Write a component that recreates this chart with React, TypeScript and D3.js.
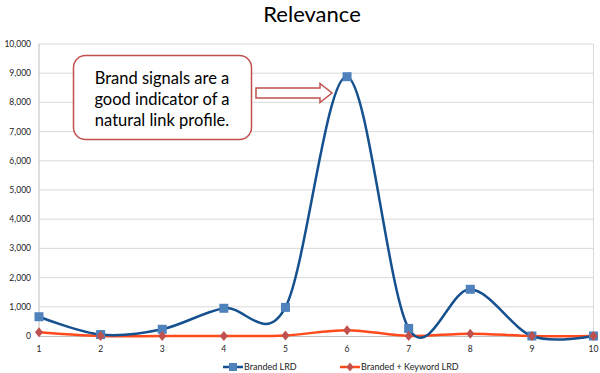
import React from "react";
import * as d3 from "d3";

const categories = [1, 2, 3, 4, 5, 6, 7, 8, 9, 10];
const brandedLRD = [660, 50, 230, 950, 980, 8880, 260, 1600, 0, 0];
const brandedKeywordLRD = [130, 0, 0, 0, 20, 200, 0, 80, 0, 0];
const yTicks = [0, 1000, 2000, 3000, 4000, 5000, 6000, 7000, 8000, 9000, 10000];
const title = "Relevance";
const calloutLines = ["Brand signals are a", "good indicator of a", "natural link profile."];
const seriesNames = ["Branded LRD", "Branded + Keyword LRD"];

const W = 600;
const H = 373;
const FONT = "Lato, 'Open Sans', 'DejaVu Sans', sans-serif";

export default function App() {
  const x = d3.scaleLinear().domain([1, 10]).range([39, 593.5]);
  const y = d3.scaleLinear().domain([0, 10000]).range([336, 44]);
  const line = d3
    .line<number>()
    .x((_, i) => x(categories[i]))
    .y((d) => y(d))
    .curve(d3.curveCardinal.tension(0));
  const fmt = d3.format(",");

  return (
    <svg
      width={W}
      height={H}
      style={{ position: "absolute", left: 0, top: 0, background: "#fff" }}
      fontFamily={FONT}
    >
      <text x={312} y={22} textAnchor="middle" fontSize={22} fill="#000">
        {title}
      </text>
      {yTicks.map((t) => (
        <g key={t}>
          {t > 0 && (
            <line x1={x(1)} x2={593.5} y1={y(t)} y2={y(t)} stroke="#D9D9D9" strokeWidth={1} />
          )}
          <text x={31} y={y(t) + 3} textAnchor="end" fontSize={8.5} fill="#222">
            {fmt(t)}
          </text>
        </g>
      ))}
      <line x1={593.5} x2={593.5} y1={44} y2={336} stroke="#D9D9D9" />
      <line x1={39} x2={39} y1={44} y2={336} stroke="#BFBFBF" />
      <line x1={39} x2={593.5} y1={336.5} y2={336.5} stroke="#BFBFBF" />
      {categories.map((c) => (
        <text key={c} x={x(c)} y={352} textAnchor="middle" fontSize={8.5} fill="#222">
          {c}
        </text>
      ))}

      <path d={line(brandedKeywordLRD) || ""} fill="none" stroke="#FF4A1C" strokeWidth={2.5} />
      <path d={line(brandedLRD) || ""} fill="none" stroke="#15508F" strokeWidth={2.5} />
      {brandedLRD.map((v, i) => (
        <rect
          key={"b" + i}
          x={x(categories[i]) - 4.5}
          y={y(v) - 4.5}
          width={9}
          height={9}
          fill="#4F81BD"
        />
      ))}
      {brandedKeywordLRD.map((v, i) => (
        <path
          key={"r" + i}
          transform={`translate(${x(categories[i])},${y(v)})`}
          d="M0,-5L4,0L0,5L-4,0Z"
          fill="#C0504D"
        />
      ))}

      {/* callout */}
      <rect x={73.5} y={55.5} width={178} height={84} rx={12} ry={12} fill="#fff" stroke="#C0504D" strokeWidth={1.5} />
      {calloutLines.map((l, i) => (
        <text key={i} x={162} y={84 + i * 21} textAnchor="middle" fontSize={16.5} fill="#000">
          {l}
        </text>
      ))}
      <path
        d="M256,88L320,88L320,83.5L332,93L320,102.5L320,98L256,98Z"
        fill="#fff"
        stroke="#C0504D"
        strokeWidth={1.5}
      />

      {/* legend */}
      <line x1={223} x2={243} y1={367} y2={367} stroke="#15508F" strokeWidth={2.5} />
      <rect x={229} y={363} width={8} height={8} fill="#4F81BD" />
      <text x={244} y={370} fontSize={9} fill="#222">
        {seriesNames[0]}
      </text>
      <line x1={340} x2={360} y1={367} y2={367} stroke="#FF4A1C" strokeWidth={2.5} />
      <path transform="translate(350,367)" d="M0,-4.5L3.5,0L0,4.5L-3.5,0Z" fill="#C0504D" />
      <text x={361} y={370} fontSize={9} fill="#222">
        {seriesNames[1]}
      </text>
    </svg>
  );
}
